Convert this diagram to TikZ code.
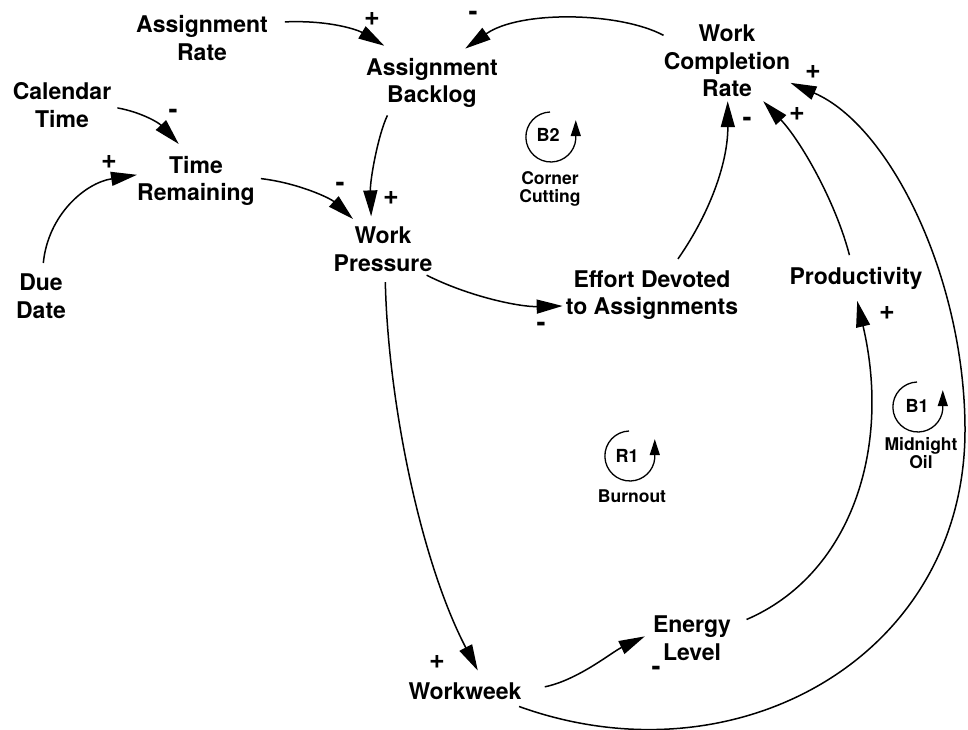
\documentclass[tikz,border=0pt]{standalone}
\usepackage{fontspec}
\setmainfont{TeX Gyre Heros}
\usetikzlibrary{arrows.meta,shapes.geometric}
\begin{document}
\begin{tikzpicture}[x=1pt,y=-1pt,
  var/.style={font=\bfseries\fontsize{23}{27.5}\selectfont, align=center, ellipse, inner sep=1pt},
  boxvar/.style={var, rectangle},
  link/.style={line width=1.5pt, -{Triangle[length=26pt,width=14pt]}},
  sign/.style={font=\bfseries\fontsize{27}{27}\selectfont, inner sep=0pt},
  looptag/.style={font=\bfseries\fontsize{18}{18}\selectfont, inner sep=0pt},
  loopname/.style={font=\bfseries\fontsize{17.5}{18.5}\selectfont, align=center, inner sep=0pt},
  loopline/.style={line width=1.3pt, -{Triangle[length=16pt,width=10pt]}}
]
\fill[white] (0,0) rectangle (968,730);
\useasboundingbox (0,0) rectangle (968,730);

% variables
\node[var] (ar) at (202,38) {Assignment\\Rate};
\node[var] (ab) at (432,83) {Assignment\\Backlog};
\node[boxvar, inner xsep=0pt, inner ysep=4pt] (wcr) at (727,61) {Work\\Completion\\Rate};
\node[boxvar, inner xsep=6pt] (ct) at (62,105) {Calendar\\Time};
\node[boxvar, inner xsep=0pt, inner ysep=12pt] (tr) at (196,181) {Time\\Remaining};
\node[var] (dd) at (41,296) {Due\\Date};
\node[var] (wp) at (383,249) {Work\\Pressure};
\node[boxvar, inner xsep=3pt, inner ysep=3pt] (eff) at (652,295) {Effort Devoted\\to Assignments};
\node[var, inner ysep=5pt] (prod) at (856,278) {Productivity};
\node[boxvar, inner xsep=8pt] (el) at (692,638) {Energy\\Level};
\node[var, inner ysep=6pt] (ww) at (465,691) {Workweek};

% causal links
\draw[link, shorten >=8pt] (ar.11) .. controls (330,20) and (358,30) .. (ab.141);
\draw[link] (wcr.158) .. controls (620,12) and (520,10) .. (ab.46);
\draw[link] (ct.-3) .. controls (140,112) and (158,122) .. (tr.115);
\draw[link] (dd.86) .. controls (48,215) and (85,183) .. (tr.174);
\draw[link, shorten <=6pt] (tr.3) .. controls (298,183) and (330,198) .. (wp.135);
\draw[link] (ab.216) .. controls (378,135) and (370,180) .. (wp.110);
\draw[link] (wp.-31) .. controls (470,297) and (520,307) .. (eff.187);
\draw[link] (wp.-86) .. controls (388,400) and (420,560) .. (ww.58);
\draw[link] (ww.3) .. controls (578,680) and (612,652) .. (el.178);
\draw[link, shorten <=8pt] (el.18) .. controls (850,575) and (892,450) .. (prod.-87);
\draw[link] (prod.106) .. controls (835,200) and (800,140) .. (wcr.-48);
\draw[link, shorten <=10pt] (eff.54) .. controls (712,210) and (728,160) .. (wcr.-89);
\draw[link] (ww.-16) .. controls (737,785) and (965,656) .. (965,430)
  .. controls (965,280) and (891,126) .. (wcr.-19);

% polarities
\node[sign] (s1) at (372,19) {+};
\node[sign] (s2) at (473,16) {-};
\node[sign] (s3) at (173,114) {-};
\node[sign] (s4) at (109,162) {+};
\node[sign] (s5) at (340,187) {-};
\node[sign] (s6) at (391,198) {+};
\node[sign] (s7) at (541,327) {-};
\node[sign] (s8) at (437,662) {+};
\node[sign] (s9) at (656,671) {-};
\node[sign] (s10) at (887,313) {+};
\node[sign] (s11) at (797,114) {+};
\node[sign] (s12) at (747,122) {-};
\node[sign] (s13) at (813,72) {+};

% loop markers
\node[looptag] (b2) at (548,135) {B2};
\draw[loopline] (550,112) arc[start angle=268, end angle=5, radius=25] -- ++(0,-19);
\node[loopname] (b2n) at (550,189) {Corner\\Cutting};

\node[looptag] (r1) at (627,456) {R1};
\draw[loopline] (629,431) arc[start angle=268, end angle=5, radius=25] -- ++(0,-19);
\node[loopname] (r1n) at (632,496) {Burnout};

\node[looptag] (b1) at (917,406) {B1};
\draw[loopline] (917,382) arc[start angle=268, end angle=5, radius=25] -- ++(0,-19);
\node[loopname] (b1n) at (921,453) {Midnight\\Oil};
\end{tikzpicture}
\end{document}
